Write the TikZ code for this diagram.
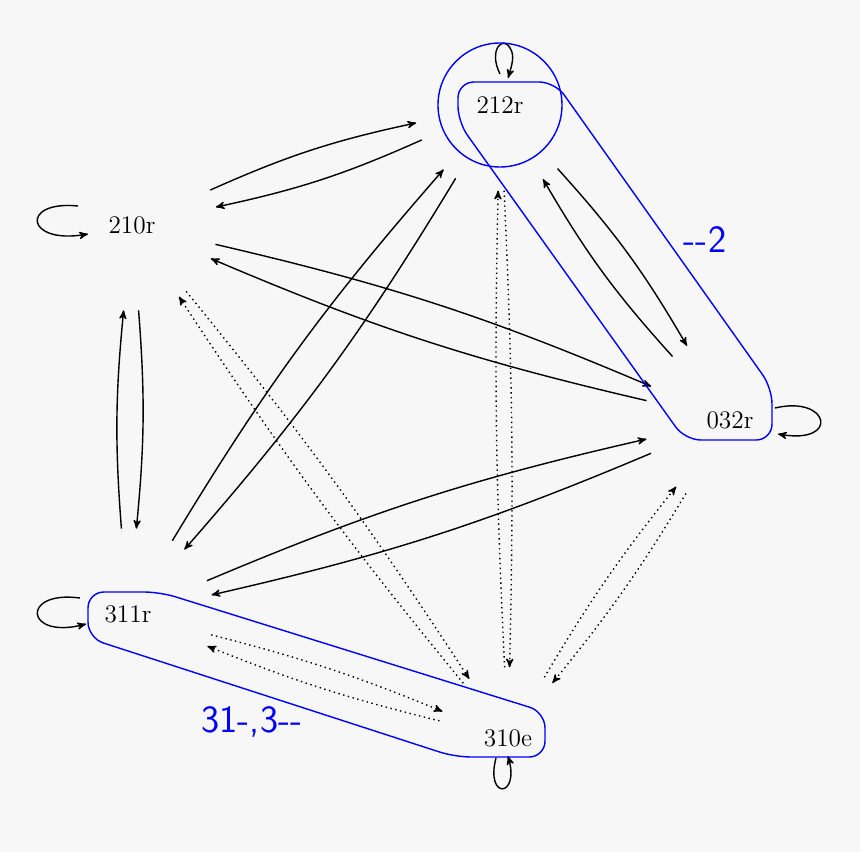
\documentclass[tikz,border=0pt]{standalone}
\usepackage{tikz}
\usetikzlibrary{arrows,positioning,calc}

\begin{document}
\begin{tikzpicture}[->,>=stealth',thick,x=0.02cm,y=-0.02cm]
			\tikzstyle{every node}=[circle,text=black,font=\Large]
			\tikzstyle{blob}=[minimum size=3.4cm]
			\tikzstyle{dots}=[dotted,thick]
			\tikzstyle{grp}=[-,blue,thick,rounded corners=9pt]
			\tikzstyle{grplabel}=[text=blue,font=\fontsize{22}{24}\sffamily]
			
			\fill[black!3] (0,0) rectangle (860,852);
			
			\node[blob]    (S212)   at (500,105)   {212r};
			
			\node[blob]    (S210)   at (132,225)   {210r};
			
			\node[blob]    (S032)   at (730,420)   {032r};
			
			\node[blob]    (S311)   at (128,614)   {311r};
			
			\node[minimum size=2.8cm]    (S310)   at (508,738)   {310e};
			
			\path
			
			(S210) edge[bend left=6] (S212)
			
			(S212) edge[bend left=6] (S210)
			
			(S212) edge[bend left=6] (S032)
			
			(S032) edge[bend left=6] (S212)
			
			(S311) edge[bend left=5] (S212)
			
			(S212) edge[bend left=5] (S311)
			
			(S210) edge[bend left=5] (S032)
			
			(S032) edge[bend left=5] (S210)
			
			(S311) edge[bend left=5] (S210)
			
			(S210) edge[bend left=5] (S311)
			
			(S311) edge[bend left=5] (S032)
			
			(S032) edge[bend left=5] (S311)
			
			(S310) edge[dots,bend left=2] (S212)
			
			(S212) edge[dots,bend left=2] (S310)
			
			(S310) edge[dots,bend left=3] (S210)
			
			(S210) edge[dots,bend left=3] (S310)
			
			(S310) edge[dots,bend left=4] (S032)
			
			(S032) edge[dots,bend left=4] (S310)
			
			(S310) edge[dots,bend left=4] (S311)
			
			(S311) edge[dots,bend left=4] (S310);
			
			\draw (500,74) .. controls (488,50) and (503,35) .. (510,48) .. controls (515,55) and (512,65) .. (508,78);
			
			\draw (78,206) .. controls (20,200) and (25,245) .. (88,234);
			
			\draw (775,408) .. controls (830,395) and (840,445) .. (778,434);
			
			\draw (80,598) .. controls (20,590) and (25,640) .. (86,624);
			
			\draw (496,758) .. controls (485,800) and (520,798) .. (508,756);
			
			\draw[grp] (458,82) -- (555,82) -- (772,388) -- (772,440) -- (685,440) -- (458,122) -- cycle;
			
			\draw[blue,thick,-] (S212.center) circle (62);
			
			\draw[grp] (88,592) -- (160,592) -- (545,712) -- (545,757) -- (455,757) -- (88,638) -- cycle;
			
			\node[grplabel] at (705,240) {{-}{-}2};
			
			\node[grplabel] at (252,722) {31{-},3{-}{-}};
			
			\end{tikzpicture}
\end{document}
